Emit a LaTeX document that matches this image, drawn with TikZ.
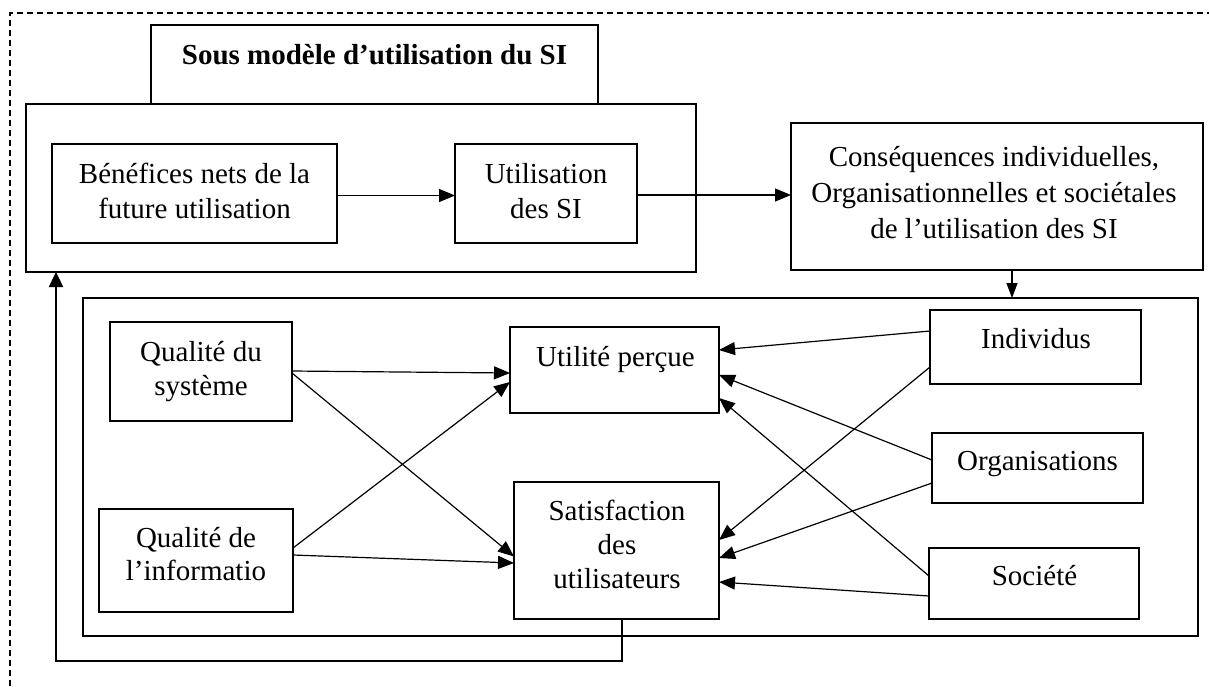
\documentclass[tikz,border=0pt]{standalone}
\usepackage{fontspec}
\setmainfont{Liberation Serif}
\usetikzlibrary{arrows.meta,calc}
\begin{document}
\begin{tikzpicture}[x=1pt,y=-1pt,
  box/.style={draw, line width=2.4pt, inner sep=0pt, outer sep=0pt},
  frame/.style={draw, line width=1.2pt, inner sep=0pt, outer sep=0pt},
  txt/.style={align=center, inner sep=0pt, anchor=base, font=\fontsize{29}{35}\selectfont},
  con/.style={line width=1.2pt, -{Triangle[length=16pt,width=13pt]}},
  fback/.style={line width=2.4pt, -{Triangle[length=15pt,width=14pt]}},
  dashframe/.style={line width=1.4pt, dash pattern=on 6pt off 4pt}
  ]
\useasboundingbox (0,0) rectangle (1209,686);
% outer dashed frame
\draw[dashframe] (10,686) -- (10,13) -- (1209,13);
% upper part
\node[frame, line width=1.6pt, minimum width=447pt, minimum height=79pt] (title) at (374.5,64.5) {};
\node[frame, minimum width=670pt, minimum height=168pt] (big) at (361,188) {};
\node[box, minimum width=285pt, minimum height=99pt] (bene) at (194.5,193.5) {};
\node[box, minimum width=182pt, minimum height=99pt] (uti) at (546,193.5) {};
\node[frame, minimum width=412pt, minimum height=147pt] (cons) at (997,196.5) {};
% lower part
\node[frame, minimum width=1115pt, minimum height=338pt] (bot) at (640.5,467) {};
\node[box, minimum width=182pt, minimum height=99pt] (qs) at (201,371.5) {};
\node[box, minimum width=194pt, minimum height=103pt] (qi) at (196,560.5) {};
\node[box, minimum width=209pt, minimum height=86pt] (utp) at (614.5,370) {};
\node[box, minimum width=205pt, minimum height=137pt] (sat) at (616.5,550.5) {};
\node[box, minimum width=211pt, minimum height=74pt] (ind) at (1035.5,347) {};
\node[box, minimum width=211pt, minimum height=70pt] (org) at (1037.5,468) {};
\node[box, minimum width=210pt, minimum height=71pt] (soc) at (1034,583.5) {};
% texts (anchor = baseline of the last line)
\node[txt, font={\fontsize{29}{35}\selectfont\bfseries}] (ttitle) at (374.5,64) {Sous modèle d’utilisation du SI};
\node[txt] (tbene) at (194.5,218) {Bénéfices nets de la\\future utilisation};
\node[txt] (tuti) at (546,218) {Utilisation\\des SI};
\node[txt, font=\fontsize{29}{36}\selectfont] (tcons) at (994,238) {Conséquences individuelles,\\Organisationnelles et sociétales\\de l’utilisation des SI};
\node[txt, font=\fontsize{29}{34}\selectfont] (tqs) at (201,395) {Qualité du\\système};
\node[txt, font=\fontsize{29}{33}\selectfont] (tqi) at (196,580) {Qualité de\\l’informatio};
\node[txt] (tutp) at (615.5,366) {Utilité perçue};
\node[txt, font=\fontsize{29}{34}\selectfont] (tsat) at (617,588) {Satisfaction\\des\\utilisateurs};
\node[txt] (tind) at (1036,348) {Individus};
\node[txt] (torg) at (1037.5,470) {Organisations};
\node[txt] (tsoc) at (1034.5,585) {Société};
% connectors upper
\draw[con] ($(bene.east)+(0,2)$) -- ($(uti.west)+(0,2)$);
\draw[con] ($(uti.east)+(0,1.5)$) -- ($(cons.west)+(0,-1.5)$);
\coordinate (cd) at ($(cons.south)+(15,0)$);
\draw[con, -{Triangle[length=15pt,width=11pt]}] (cd) -- (cd |- bot.north);
% left connectors
\draw[con] ($(qs.east)+(0,-0.5)$) -- ($(utp.west)+(0,3)$);
\draw[con] ($(qs.east)+(0,1.5)$) -- ($(sat.west)+(0,6)$);
\draw[con] ($(qi.east)+(0,-12.5)$) -- ($(utp.west)+(0,12)$);
\draw[con] ($(qi.east)+(0,-5.5)$) -- ($(sat.west)+(0,12.5)$);
% right connectors
\draw[con] ($(ind.west)+(0,-16)$) -- ($(utp.east)+(0,-20)$);
\draw[con] ($(org.west)+(0,-8)$) -- ($(utp.east)+(0,5)$);
\draw[con] ($(soc.west)+(0,-7.5)$) -- ($(utp.east)+(0,28)$);
\draw[con] ($(ind.west)+(0,20)$) -- ($(sat.east)+(0,-10.5)$);
\draw[con] ($(org.west)+(0,15)$) -- ($(sat.east)+(0,7.5)$);
\draw[con] ($(soc.west)+(0,12.5)$) -- ($(sat.east)+(0,31.5)$);
% feedback
\coordinate (fs) at ($(sat.south)+(5.5,0)$);
\coordinate (fc) at (56,661);
\draw[fback] (fs) |- (fc) -- (fc |- big.south);
\end{tikzpicture}
\end{document}
